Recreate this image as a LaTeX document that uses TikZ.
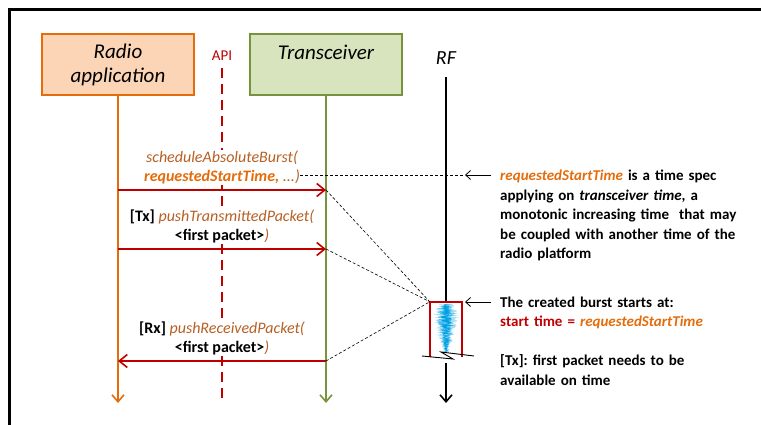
\documentclass[tikz,border=0pt]{standalone}
\usepackage{fontspec}
\setmainfont{Carlito}
\frenchspacing
\usetikzlibrary{shapes,arrows.meta,positioning}
\definecolor{apporange}{RGB}{228,108,10}
\definecolor{appfill}{RGB}{251,213,181}
\definecolor{trxgreen}{RGB}{119,147,60}
\definecolor{trxfill}{RGB}{215,228,189}
\definecolor{callred}{RGB}{192,0,0}
\definecolor{fnbrown}{RGB}{182,96,36}
\definecolor{wavecyan}{RGB}{0,160,228}
\tikzset{
    entity/.style = {rectangle, minimum width=152pt, minimum height=61pt, line width=1.6pt, inner sep=0pt, align=center, font=\itshape\fontsize{21}{24}\selectfont},
    lifeline/.style = {line width=1.6pt, -{Straight Barb[length=7pt,width=12pt]}},
    call/.style = {line width=1.6pt, draw=callred, -{Straight Barb[length=8pt,width=13pt]}},
    msgtext/.style = {align=center, fill=white, inner sep=1pt, font=\fontsize{16}{19}\selectfont},
    guide/.style = {dash pattern=on 3pt off 2pt, line width=0.6pt},
    notetext/.style = {anchor=base west, text width=260pt, align=left, inner sep=0pt, font=\bfseries\fontsize{15}{19.5}\selectfont},
    pointer/.style = {line width=0.8pt, -{Straight Barb[length=5pt,width=9pt]}}
}
\newcommand{\fn}[1]{{\color{fnbrown}\itshape #1}}
\newcommand{\req}{{\color{apporange}\bfseries\itshape requestedStartTime}}

\begin{document}
\begin{tikzpicture}[x=1pt, y=-1pt]
    \useasboundingbox (0,0) rectangle (761,425);
    \draw[line width=3.5pt] (9.5,425) -- (9.5,9.5) -- (761,9.5);

    % Nodes
    \node [entity, draw=apporange, fill=appfill] (app) at (118,64.5) {Radio\\application};
    \node [entity, draw=trxgreen, fill=trxfill] (trx) at (326,64.5) {Transceiver\\~};
    \node [text=callred, font=\fontsize{15}{18}\selectfont] (api) at (222,56) {API};
    \node [font=\itshape\fontsize{20}{24}\selectfont] (rf) at (446,58) {RF};
    \node [fill=white, minimum width=32pt, minimum height=55pt, inner sep=0pt] (burst) at (446,329.5) {};

    \coordinate (append) at (118,403);
    \coordinate (trxend) at (326,403);
    \coordinate (apitop) at (222,68);
    \coordinate (apiend) at (222,403);
    \coordinate (rftop) at (446,77);
    \coordinate (rfgap) at (446,363);
    \coordinate (rfend) at (446,403);

    % Lifelines
    \draw [lifeline, apporange] (app.south) -- (append);
    \draw [lifeline, trxgreen] (trx.south) -- (trxend);
    \draw [callred, line width=1.6pt, dash pattern=on 10pt off 6pt] (apitop) -- (apiend);
    \draw [line width=1.6pt] (rftop) -- (burst.north);
    \draw [lifeline, black] (rfgap) -- (rfend);

    % Burst on the air
    \pgfmathsetseed{12}
    \draw [wavecyan!35, line width=0.4pt] plot[domain=304:352, samples=260]
        ({446+(3+10*exp(0-((\x-317)/14)^2)+4*exp(0-((\x-337)/8)^2))*rand}, \x);
    \draw [wavecyan!70, line width=0.4pt] plot[domain=304:352, samples=200]
        ({446+(2+8*exp(0-((\x-317)/14)^2)+3*exp(0-((\x-337)/8)^2))*rand}, \x);
    \draw [wavecyan, line width=0.5pt] plot[domain=304:352, samples=140]
        ({446+(1+5*exp(0-((\x-318)/13)^2)+2*exp(0-((\x-336)/8)^2))*rand}, \x);
    \draw [callred, line width=1.6pt] (burst.south west) -- (burst.north west) -- (burst.north east) -- (burst.south east);
    \draw [line width=0.9pt] (422,356) -- (453,359) -- (441,352) -- (474,356);

    % Calls
    \coordinate (s1) at (118,190);
    \coordinate (t1) at (326,190);
    \coordinate (s2) at (118,249);
    \coordinate (t2) at (326,249);
    \coordinate (s3) at (326,361);
    \coordinate (t3) at (118,361);

    \draw [call] (s1) -- (t1) node[msgtext, midway, above=4pt] (m1) {\fn{scheduleAbsoluteBurst(}\\\req{\color{apporange}\bfseries\itshape ,} \fn{...)}};
    \draw [call] (s2) -- (t2) node[msgtext, midway, above=4pt] (m2) {\textbf{[Tx]} \fn{pushTransmittedPacket(}\\\textbf{<first packet>}\fn{)}};
    \draw [call] (s3) -- (t3) node[msgtext, midway, above=4pt] (m3) {\textbf{[Rx]} \fn{pushReceivedPacket(}\\\textbf{<first packet>}\fn{)}};

    % Guides to the burst
    \draw [guide] (t1) -- (burst.north west);
    \draw [guide] (t2) -- (burst.north west);
    \draw [guide] (s3) -- (burst.north west);

    % Notes
    \coordinate (reqend) at (300,175);
    \coordinate (tip1) at (465,175);
    \coordinate (tip2) at (465,302);
    \node [notetext] (note1) at (500,181) {\req{} is a time spec\\
        applying on {\itshape transceiver time}, a\\
        monotonic increasing time\ \ that may\\
        be coupled with another time of the\\
        radio platform};
    \node [notetext] (note2) at (500,307) {The created burst starts at:\\
        {\color{callred}start time =} \req\\[19.5pt]
        [Tx]: first packet needs to be\\
        available on time};
    \draw [guide] (reqend) -- (tip1);
    \draw [pointer] (491,175) -- (tip1);
    \draw [pointer] (491,302) -- (tip2);
\end{tikzpicture}
\end{document}
